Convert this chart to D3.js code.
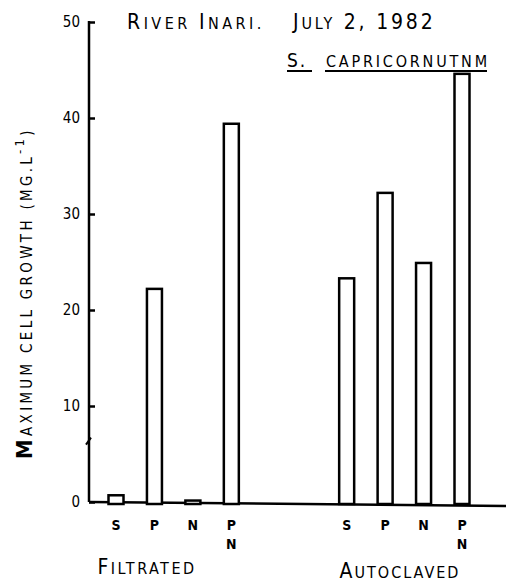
<!DOCTYPE html>
<html>
<head>
<meta charset="utf-8">
<script src="https://cdn.jsdelivr.net/npm/d3@7.9.0/dist/d3.min.js"></script>
<style>
  body { margin: 0; background: #fff; }
  svg { display: block; }
  text { font-family: "DejaVu Sans Condensed", "Liberation Sans Narrow", sans-serif; fill: #000; }
  .y-axis line { stroke: #000; stroke-width: 2.5; }
  .y-axis text { font-size: 15px; }
</style>
</head>
<body>
<div id="chart"></div>
<script>
// values
const treatments = ['S', 'P', 'N', 'PN'];
const filtrated = [0.7, 22.2, 0.15, 39.4];
const autoclaved = [23.3, 32.2, 24.9, 44.6];
const yTicks = [0, 10, 20, 30, 40, 50];
// 10 slots: 4 filtrated, 2 empty, 4 autoclaved
const slots = ['F-S', 'F-P', 'F-N', 'F-PN', 'gap1', 'gap2', 'A-S', 'A-P', 'A-N', 'A-PN'];

const width = 506;
const height = 586;

const bars = [
  ...treatments.map((t, i) => ({ id: 'F-' + t, label: t, value: filtrated[i] })),
  ...treatments.map((t, i) => ({ id: 'A-' + t, label: t, value: autoclaved[i] })),
];

const xScale = d3.scalePoint().domain(slots).range([116, 462]);
const yScale = d3.scaleLinear().domain([0, 50]).range([502, 22]);
const barW = 15;
const axisX = 89;

const svg = d3.select('#chart')
  .append('svg')
  .attr('width', width)
  .attr('height', height);

// y axis, ticks pointing inward
const yAxis = d3.axisLeft(yScale)
  .tickValues(yTicks)
  .tickSizeInner(-6)
  .tickSizeOuter(0)
  .tickPadding(9);

svg.append('g')
  .attr('class', 'y-axis')
  .attr('transform', `translate(${axisX},0)`)
  .call(yAxis)
  .call(g => g.select('.domain').remove());

svg.append('line')
  .attr('x1', axisX).attr('x2', axisX)
  .attr('y1', yScale(50) - 1).attr('y2', yScale(0))
  .attr('stroke', '#000').attr('stroke-width', 2.5);

// small break mark on the axis
svg.append('path')
  .attr('d', `M${axisX - 3},${yScale(6.4) + 4}L${axisX + 2},${yScale(6.4) - 3}`)
  .attr('stroke', '#000').attr('stroke-width', 2).attr('fill', 'none');

// baseline
svg.append('line')
  .attr('x1', axisX).attr('x2', width)
  .attr('y1', yScale(0)).attr('y2', yScale(0) + 4)
  .attr('stroke', '#000').attr('stroke-width', 2.5);

// bars
svg.append('g')
  .selectAll('rect')
  .data(bars)
  .join('rect')
  .attr('x', d => xScale(d.id) - barW / 2)
  .attr('y', d => yScale(d.value))
  .attr('width', barW)
  .attr('height', d => yScale(0) - yScale(d.value) + 2)
  .attr('fill', '#fff')
  .attr('stroke', '#000')
  .attr('stroke-width', 2.5);

// category labels
const labels = svg.append('g')
  .selectAll('text')
  .data(bars)
  .join('text')
  .attr('text-anchor', 'middle')
  .attr('font-size', 14)
  .attr('font-weight', 'bold')
  .attr('x', d => xScale(d.id))
  .attr('y', 530);

labels.each(function (d) {
  const t = d3.select(this);
  if (d.label === 'PN') {
    t.append('tspan').attr('x', xScale(d.id)).attr('y', 530).text('P');
    t.append('tspan').attr('x', xScale(d.id)).attr('y', 549).text('N');
  } else {
    t.text(d.label);
  }
});

// small-caps helper: list of [text, big?]
function smallCaps(sel, parts, big, small) {
  parts.forEach(([s, isBig]) => {
    sel.append('tspan').attr('font-size', isBig ? big : small).text(s);
  });
}

// group labels
smallCaps(svg.append('text').attr('x', 147).attr('y', 574).attr('text-anchor', 'middle')
  .attr('letter-spacing', 2.5),
  [['F', true], ['ILTRATED', false]], 21, 16);
smallCaps(svg.append('text').attr('x', 400).attr('y', 578).attr('text-anchor', 'middle')
  .attr('letter-spacing', 2),
  [['A', true], ['UTOCLAVED', false]], 21, 16);

// title
smallCaps(svg.append('text').attr('x', 127).attr('y', 29).attr('letter-spacing', 3.5),
  [['R', true], ['IVER ', false], ['I', true], ['NARI.', false]], 21, 16);
smallCaps(svg.append('text').attr('x', 293).attr('y', 29).attr('letter-spacing', 2.8),
  [['J', true], ['ULY', false], [' 2, 1982', true]], 21, 16);

const sub = svg.append('text').attr('x', 287).attr('y', 67).attr('letter-spacing', 2);
sub.append('tspan').attr('font-size', 19).text('S.');
sub.append('tspan').attr('x', 326).attr('font-size', 16).attr('letter-spacing', 2.8).text('CAPRICORNUTNM');

svg.append('line').attr('x1', 287).attr('x2', 312).attr('y1', 71).attr('y2', 71)
  .attr('stroke', '#000').attr('stroke-width', 2);
svg.append('line').attr('x1', 325).attr('x2', 487).attr('y1', 71).attr('y2', 71)
  .attr('stroke', '#000').attr('stroke-width', 2);

// y axis title
const yt = svg.append('text')
  .attr('transform', 'translate(32,293) rotate(-90)')
  .attr('text-anchor', 'middle')
  .attr('letter-spacing', 3.3);
yt.append('tspan').attr('font-size', 22).attr('font-weight', 'bold').text('M');
yt.append('tspan').attr('font-size', 15).text('AXIMUM CELL GROWTH (MG.L');
yt.append('tspan').attr('font-size', 13).attr('dy', -8).text('-1');
yt.append('tspan').attr('font-size', 15).attr('dy', 8).text(')');
</script>
</body>
</html>
